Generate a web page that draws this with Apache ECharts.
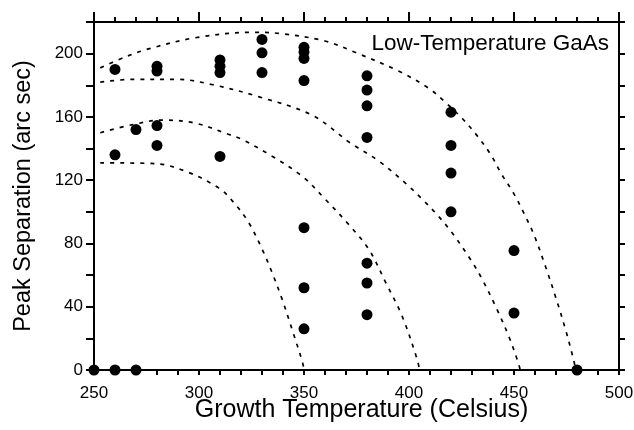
<!DOCTYPE html>
<html>
<head>
<meta charset="utf-8">
<script src="https://cdn.jsdelivr.net/npm/echarts@6/dist/echarts.min.js"></script>
<style>
  html, body { margin: 0; padding: 0; background: #fff; }
  #chart { width: 634px; height: 430px; }
</style>
</head>
<body>
<div id="chart"></div>
<script>
// Measured samples: growth temperature (°C) and peak separation (arc sec)
const sampleTemp = [250, 260, 260, 260, 270, 270,
  280, 280, 280, 280,
  310, 310, 310, 310,
  330, 330, 330,
  350, 350, 350, 350, 350, 350, 350,
  380, 380, 380, 380, 380, 380, 380,
  420, 420, 420, 420,
  450, 450,
  480];
const samplePeak = [0, 190, 136, 0, 152, 0,
  192, 189, 154.5, 142,
  196, 192, 188, 135,
  209, 200.5, 188,
  204, 201, 197, 183, 90, 52, 26,
  186, 177, 167, 147, 67.5, 55, 35,
  163, 142, 124.5, 100,
  75.5, 36,
  0];

// Guide curves (dashed), traced as [temperature, separation] pairs
const guideOuter = [[253,191],[265,198],[276,203],[298,210],[325,213.5],[338,212.8],[360,208],[374,201],[395,189],[409.5,178],[417.5,169],[425.4,159],[432.5,148],[439,136],[444,124],[449.7,112],[454.4,100],[459.5,85.5],[465,65.4],[470,45.4],[474.6,25.3],[478,8.4],[479.5,0]];
const guideSecond = [[253,182],[268,183.7],[290,183.7],[306,180.5],[328.6,172.7],[354,161],[372,143.6],[385.7,132],[398.4,118],[406.3,108],[413.5,98],[420.6,86.6],[429.4,69.7],[435,57],[442,38],[447.6,21],[451.6,6.3],[453,0]];
const guideThird = [[253,150],[268,155],[282.5,158],[298.4,156],[314,149],[320.6,145.7],[335,135],[349.2,122.4],[360.3,107.7],[371.4,91.8],[381,76],[389,55],[396.8,33.8],[404,6.3],[405,0]];
const guideInner = [[253,131],[279,130.5],[293.7,125.6],[309.5,115],[316.7,105.6],[323.8,92.9],[330.2,76],[334.9,61.2],[339.7,44.3],[344.4,25.3],[349.2,5.3],[350,0]];

const xRange = { min: 250, max: 500, interval: 50 };
const yRange = { min: 0, max: 220, interval: 20 };
const yLabelStep = 40;

const FONT = '"Liberation Sans", Arial, Helvetica, sans-serif';
const lineStyle = { color: '#000', width: 2 };

const points = sampleTemp.map((t, i) => [t, samplePeak[i]]);

function guide(data) {
  return {
    type: 'line',
    data: data,
    smooth: 0.35,
    symbol: 'none',
    silent: true,
    z: 2,
    lineStyle: { color: '#000', width: 1.7, type: [4, 6] }
  };
}

const chart = echarts.init(document.getElementById('chart'), null, { renderer: 'canvas' });
chart.setOption({
  animation: false,
  backgroundColor: '#fff',
  textStyle: { fontFamily: FONT, color: '#000' },
  title: {
    text: 'Low-Temperature GaAs',
    right: 20,
    top: 27,
    textStyle: { fontFamily: FONT, fontSize: 22.5, fontWeight: 'normal', color: '#000' }
  },
  grid: { left: 94, right: 15, top: 22, bottom: 60, outerBoundsMode: 'none', containLabel: false },
  xAxis: [
    {
      type: 'value', position: 'bottom',
      min: xRange.min, max: xRange.max, interval: xRange.interval,
      name: 'Growth Temperature (Celsius)',
      nameLocation: 'middle', nameGap: 28, nameMoveOverlap: false,
      nameTextStyle: { fontFamily: FONT, fontSize: 25, color: '#000', padding: [0, 0, 0, 10] },
      axisLine: { show: true, onZero: false, lineStyle: lineStyle },
      axisTick: { show: true, inside: false, length: 5, lineStyle: lineStyle },
      minorTick: { show: true, splitNumber: 5, length: 5, lineStyle: lineStyle },
      axisLabel: { fontFamily: FONT, fontSize: 17, color: '#000', margin: 15 },
      splitLine: { show: false }
    },
    {
      type: 'value', position: 'top',
      min: xRange.min, max: xRange.max, interval: xRange.interval,
      axisLine: { show: true, onZero: false, lineStyle: lineStyle },
      axisTick: { show: true, inside: false, length: 10, lineStyle: lineStyle },
      minorTick: { show: true, splitNumber: 5, length: 5, lineStyle: lineStyle },
      axisLabel: { show: false },
      splitLine: { show: false }
    }
  ],
  yAxis: [
    {
      type: 'value', position: 'left',
      min: yRange.min, max: yRange.max, interval: yRange.interval,
      name: 'Peak Separation (arc sec)',
      nameLocation: 'middle', nameGap: 58, nameMoveOverlap: false,
      nameTextStyle: { fontFamily: FONT, fontSize: 23.5, color: '#000' },
      axisLine: { show: true, onZero: false, lineStyle: lineStyle },
      axisTick: { show: true, inside: false, length: 8, lineStyle: lineStyle },
      axisLabel: {
        fontFamily: FONT, fontSize: 17, color: '#000', margin: 11,
        formatter: v => (v % yLabelStep === 0 && v <= 200) ? String(v) : ''
      },
      splitLine: { show: false }
    },
    {
      type: 'value', position: 'right',
      min: yRange.min, max: yRange.max, interval: yRange.interval,
      axisLine: { show: true, onZero: false, lineStyle: lineStyle },
      axisTick: { show: true, inside: false, length: 6, lineStyle: lineStyle },
      axisLabel: { show: false },
      splitLine: { show: false }
    }
  ],
  series: [
    guide(guideOuter),
    guide(guideSecond),
    guide(guideThird),
    guide(guideInner),
    {
      type: 'scatter',
      data: points,
      symbol: 'circle',
      symbolSize: 11,
      clip: false,
      z: 5,
      itemStyle: { color: '#000', opacity: 1 },
      emphasis: { disabled: true }
    }
  ]
});
</script>
</body>
</html>
